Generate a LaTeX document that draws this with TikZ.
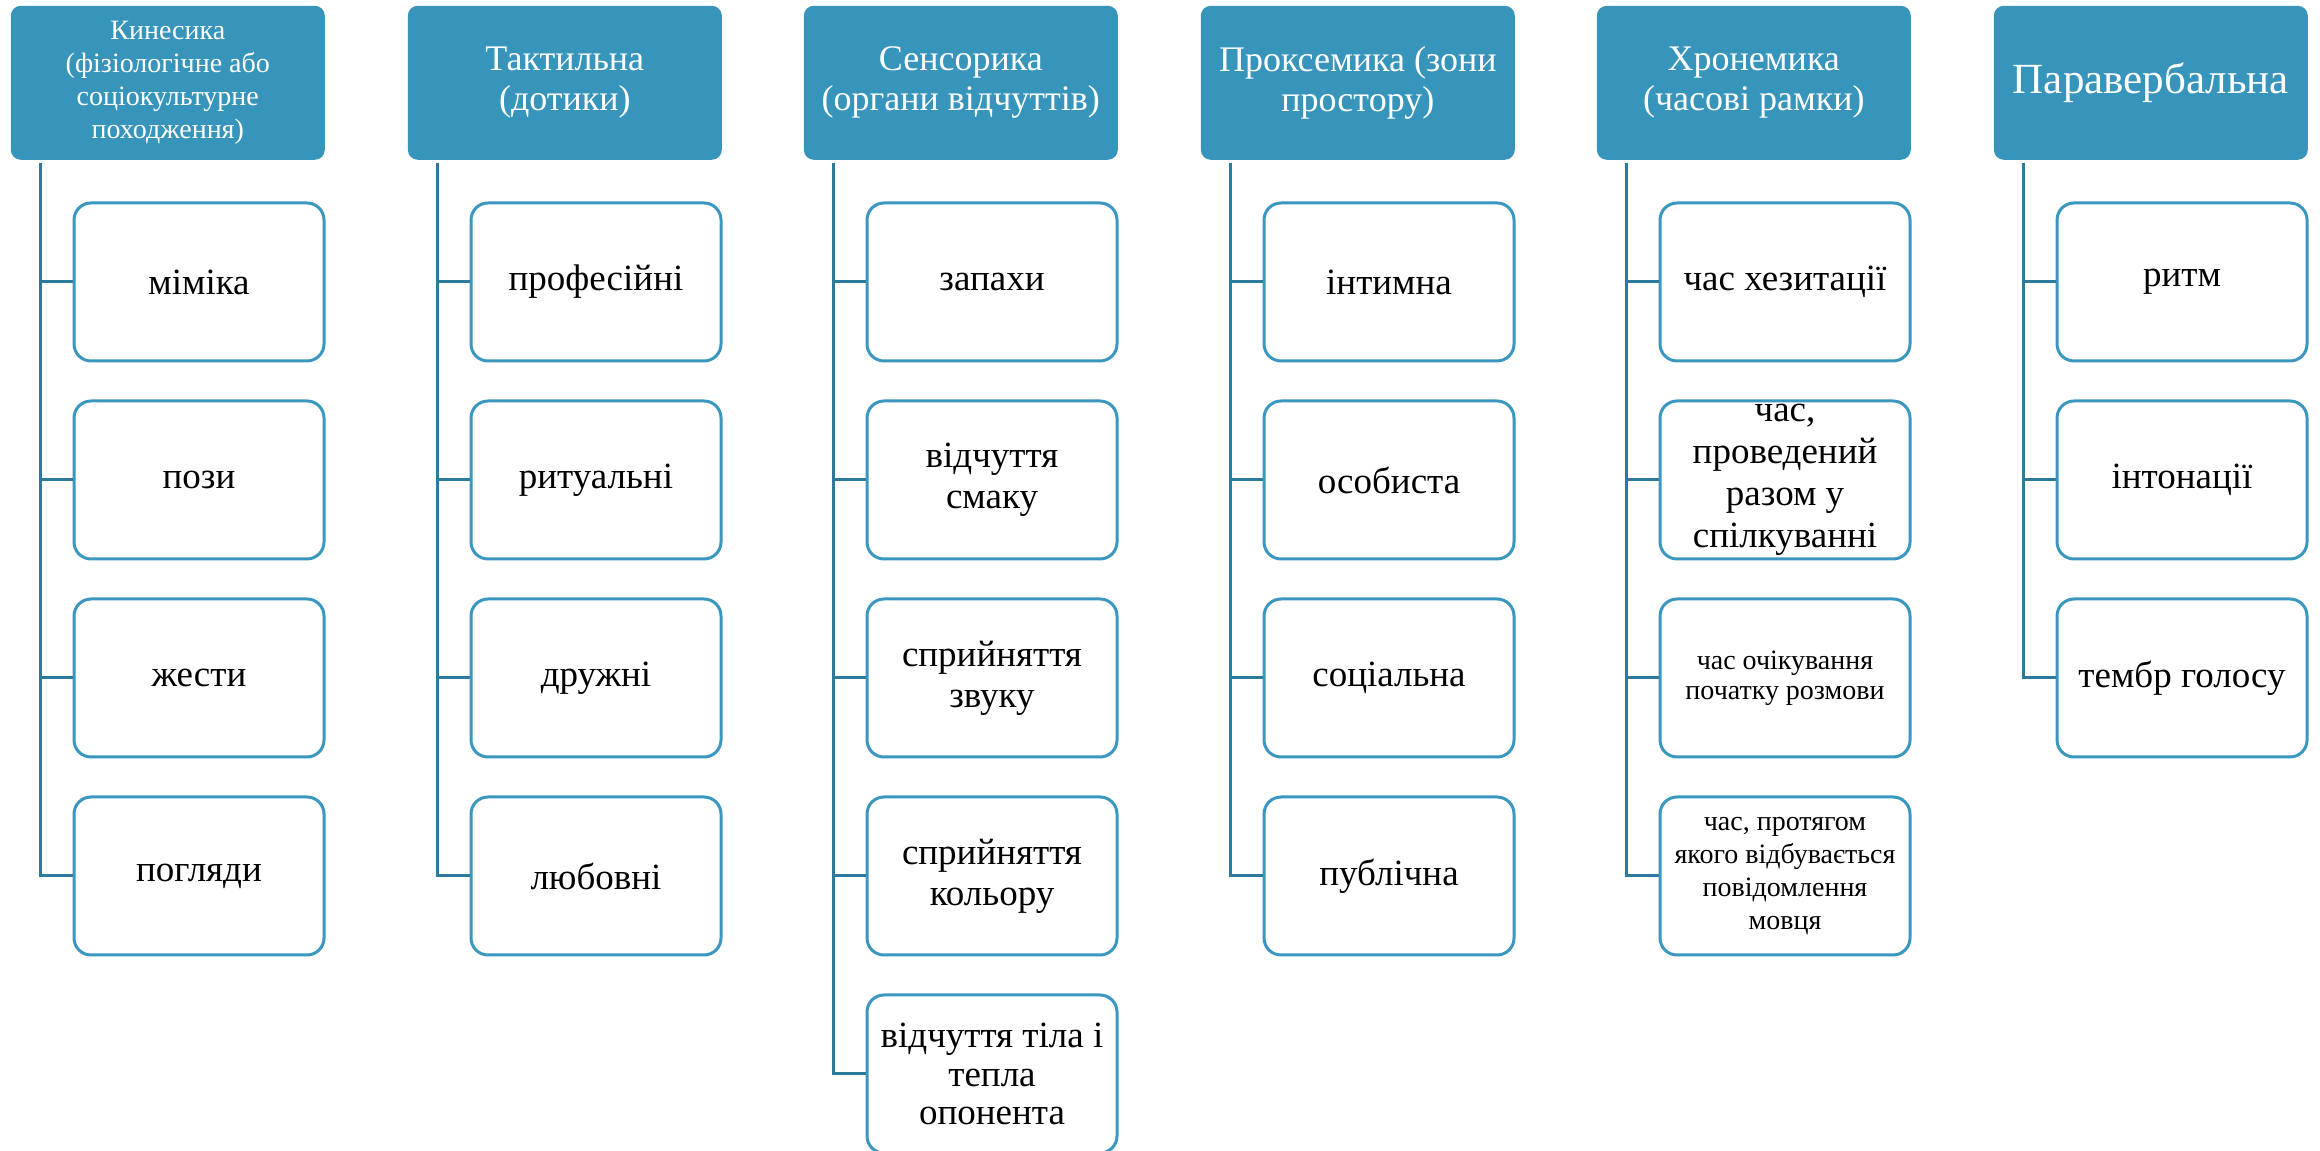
\documentclass[tikz,border=0pt]{standalone}
\usepackage{fontspec}
\setmainfont{Liberation Serif}
\definecolor{hdr}{HTML}{3795BB}
\definecolor{conn}{HTML}{2D7B9C}
\definecolor{cbord}{HTML}{3A97C0}

\begin{document}
\begin{tikzpicture}[x=0.25pt,y=-0.25pt,
  head/.style={fill=hdr, text=white, rounded corners=2.5pt, minimum width=78.5pt,
    minimum height=38.5pt, inner sep=0pt, align=center, anchor=north west,
    font=\fontsize{9}{10}\selectfont},
  item/.style={draw=cbord, line width=0.75pt, fill=white, rounded corners=4.25pt,
    minimum width=62.5pt, minimum height=39.5pt, inner sep=0pt, align=center,
    anchor=north west, font=\fontsize{9.25}{10.2}\selectfont},
  small/.style={font=\fontsize{7}{7.6}\selectfont},
  link/.style={draw=conn, line width=0.75pt},
]
\useasboundingbox (0,0) rectangle (2320,1151);

% column headers
\node[head, font=\fontsize{7}{8.25}\selectfont] (h1) at (10,5)
  {Кинесика\\(фізіологічне або\\соціокультурне\\походження)};
\node[head] (h2) at (407,5) {Тактильна\\(дотики)};
\node[head] (h3) at (803,5) {Сенсорика\\(органи відчуттів)};
\node[head] (h4) at (1200,5) {Проксемика (зони\\простору)};
\node[head] (h5) at (1596,5) {Хронемика\\(часові рамки)};
\node[head, font=\fontsize{10.75}{11.5}\selectfont] (h6) at (1993,5) {Паравербальна};

% trunk start points
\foreach \i in {1,...,6}
  \coordinate (t\i) at ([xshift=7.5pt, yshift=-0.5pt]h\i.south west);

% column 1
\node[item] (a1) at (72.5,201.5) {міміка};
\node[item] (a2) at (72.5,399.5) {пози};
\node[item] (a3) at (72.5,597.5) {жести};
\node[item] (a4) at (72.5,795.5) {погляди};

% column 2
\node[item] (b1) at (469.5,201.5) {професійні};
\node[item] (b2) at (469.5,399.5) {ритуальні};
\node[item] (b3) at (469.5,597.5) {дружні};
\node[item] (b4) at (469.5,795.5) {любовні};

% column 3
\node[item] (c1) at (865.5,201.5) {запахи};
\node[item] (c2) at (865.5,399.5) {відчуття\\смаку};
\node[item] (c3) at (865.5,597.5) {сприйняття\\звуку};
\node[item] (c4) at (865.5,795.5) {сприйняття\\кольору};
\node[item, font=\fontsize{9.25}{9.6}\selectfont] (c5) at (865.5,993.5)
  {відчуття тіла і\\тепла\\опонента};

% column 4
\node[item] (d1) at (1262.5,201.5) {інтимна};
\node[item] (d2) at (1262.5,399.5) {особиста};
\node[item] (d3) at (1262.5,597.5) {соціальна};
\node[item] (d4) at (1262.5,795.5) {публічна};

% column 5
\node[item] (e1) at (1658.5,201.5) {час хезитації};
\node[item, font=\fontsize{9.25}{10.5}\selectfont] (e2) at (1658.5,399.5)
  {час,\\проведений\\разом у\\спілкуванні};
\node[item, small] (e3) at (1658.5,597.5) {час очікування\\початку розмови};
\node[item, font=\fontsize{7}{8.3}\selectfont] (e4) at (1658.5,795.5)
  {час, протягом\\якого відбувається\\повідомлення\\мовця};

% column 6
\node[item] (f1) at (2055.5,201.5) {ритм};
\node[item] (f2) at (2055.5,399.5) {інтонації};
\node[item] (f3) at (2055.5,597.5) {тембр голосу};

% connectors
\foreach \n in {a1,a2,a3,a4} \draw[link] (t1) |- (\n.west);
\foreach \n in {b1,b2,b3,b4} \draw[link] (t2) |- (\n.west);
\foreach \n in {c1,c2,c3,c4,c5} \draw[link] (t3) |- (\n.west);
\foreach \n in {d1,d2,d3,d4} \draw[link] (t4) |- (\n.west);
\foreach \n in {e1,e2,e3,e4} \draw[link] (t5) |- (\n.west);
\foreach \n in {f1,f2,f3} \draw[link] (t6) |- (\n.west);
\end{tikzpicture}
\end{document}
